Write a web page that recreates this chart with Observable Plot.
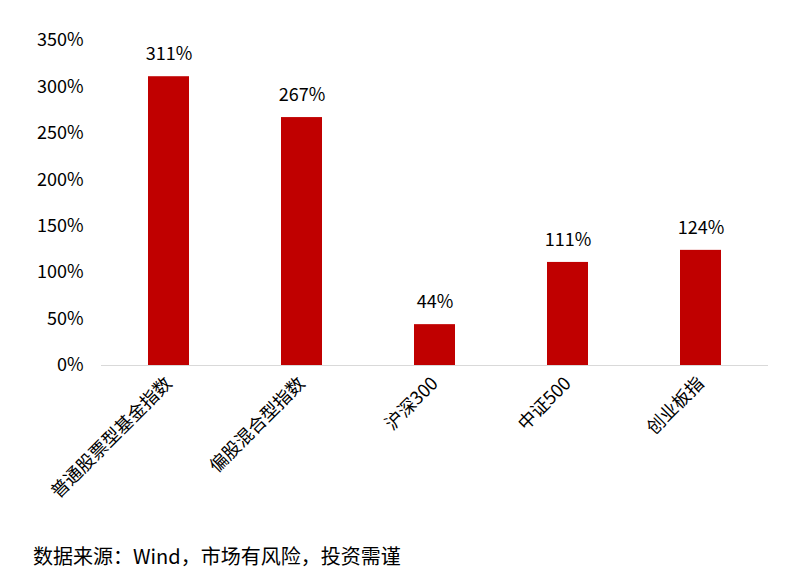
<!DOCTYPE html>
<html>
<head>
<meta charset="utf-8">
<script src="https://cdn.jsdelivr.net/npm/d3@7"></script>
<script src="https://cdn.jsdelivr.net/npm/@observablehq/plot@0.6"></script>
<style>
  html, body { margin: 0; padding: 0; background: #fff; font-family: "Noto Sans CJK SC", "Noto Sans", sans-serif; }
  #chart svg { display: block; }
  #caption { position: absolute; left: 33px; top: 542px; font-size: 20px; color: #000; line-height: 28px; white-space: nowrap; }
</style>
</head>
<body>
<div id="chart"></div>
<div id="caption">数据来源：Wind，市场有风险，投资需谨</div>
<script>
const categories = ["普通股票型基金指数", "偏股混合型指数", "沪深300", "中证500", "创业板指"];
const values = [311, 267, 44, 111, 124];
const yTicks = [0, 50, 100, 150, 200, 250, 300, 350];

const data = categories.map((c, i) => ({ category: c, value: values[i] }));

const chart = Plot.plot({
  width: 808,
  height: 528,
  marginLeft: 101,
  marginRight: 40,
  marginTop: 40,
  marginBottom: 163,
  style: { fontFamily: "'Noto Sans CJK SC', 'Noto Sans', sans-serif", fontSize: "18px", color: "#000", background: "#fff" },
  x: { domain: categories, paddingInner: 0.69, paddingOuter: 0.345, label: null, tickSize: 0, tickRotate: -45, tickPadding: 15 },
  y: { domain: [0, 350], ticks: yTicks, tickFormat: d => d + "%", label: null, tickSize: 0, tickPadding: 18 },
  marks: [
    Plot.barY(data, { x: "category", y: "value", fill: "#C00000" }),
    Plot.ruleY([0], { stroke: "#d9d9d9", strokeWidth: 1 }),
    Plot.text(data, { x: "category", y: "value", text: d => d.value + "%", dy: -22, fill: "#000", fontSize: 18 })
  ]
});
document.getElementById("chart").appendChild(chart);
</script>
</body>
</html>
